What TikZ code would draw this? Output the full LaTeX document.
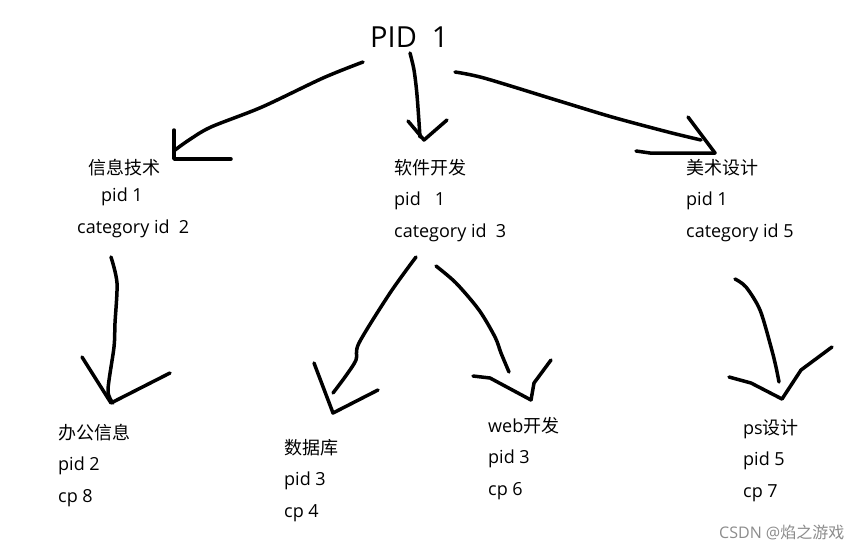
\documentclass[tikz,border=0pt]{standalone}
\usepackage{fontspec}
\setmainfont{Open Sans}
\newfontfamily\cjk{Noto Sans CJK SC}
\begin{document}
\begin{tikzpicture}[x=1pt,y=-1pt,
  lbl/.style={anchor=base west, inner sep=0pt, font=\fontsize{18}{20}\selectfont},
  title/.style={anchor=base west, inner sep=0pt, font=\fontsize{29}{31}\selectfont},
  wmark/.style={anchor=base west, inner sep=0pt, text=black!45, font=\fontsize{16}{18}\selectfont},
  stroke/.style={line width=3.5pt, line cap=round, line join=round, black}]
\useasboundingbox[fill=white] (0,0) rectangle (868,550);
% texts
\node[title] (root) at (370,47) {PID\ \ 1};
\node[lbl] (a1) at (88,174) {\cjk 信息技术};
\node[lbl] (a2) at (101,201) {pid 1};
\node[lbl] (a3) at (77,233) {category id\ \ 2};
\node[lbl] (b1) at (394,174) {\cjk 软件开发};
\node[lbl] (b2) at (394,205) {pid\ \ \ 1};
\node[lbl] (b3) at (394,237) {category id\ \ 3};
\node[lbl] (c1) at (686,174) {\cjk 美术设计};
\node[lbl] (c2) at (686,205) {pid 1};
\node[lbl] (c3) at (686,237) {category id 5};
\node[lbl] (d1) at (58,439) {\cjk 办公信息};
\node[lbl] (d2) at (58,470) {pid 2};
\node[lbl] (d3) at (58,502) {cp 8};
\node[lbl] (e1) at (284,454) {\cjk 数据库};
\node[lbl] (e2) at (284,485) {pid 3};
\node[lbl] (e3) at (284,517) {cp 4};
\node[lbl] (f1) at (488,432) {web{\cjk 开发}};
\node[lbl] (f2) at (488,463) {pid 3};
\node[lbl] (f3) at (488,495) {cp 6};
\node[lbl] (g1) at (743,434) {ps{\cjk 设计}};
\node[lbl] (g2) at (743,465) {pid 5};
\node[lbl] (g3) at (743,497) {cp 7};
\node[wmark] (wm) at (719,538) {CSDN @{\cjk 焰之游戏}};
% strokes
\draw[stroke] plot[smooth] coordinates {(363,62) (323,78) (262,107) (211,127) (189,140) (175,150)};
\draw[stroke] (174,130) -- (174,159) -- (231,159);
\draw[stroke] plot[smooth] coordinates {(410,53) (414,70) (417,95) (420,137)};
\draw[stroke] (408,121) -- (424,140) -- (447,120);
\draw[stroke] plot[smooth] coordinates {(455,72) (484,78) (556,100) (612,117) (668,132) (701,140)};
\draw[stroke] (688,117) -- (715,153);
\draw[stroke] (636,151) -- (650,153) -- (715,153);
\draw[stroke] plot[smooth] coordinates {(111,257) (117,283) (115,323) (114,347) (108,390) (113,403)};
\draw[stroke] (82,357) -- (111,403) -- (170,373);
\draw[stroke] plot[smooth] coordinates {(416,257) (390,293) (359,343) (356,360) (345,377) (333,393)};
\draw[stroke] (314,363) -- (333,413) -- (378,390);
\draw[stroke] plot[smooth] coordinates {(436,266) (456,283) (479,310) (495,337) (501,353) (509,372)};
\draw[stroke] (473,376) -- (490,378) -- (531,400);
\draw[stroke] (551,360) -- (534,383) -- (531,400);
\draw[stroke] plot[smooth] coordinates {(735,279) (746,287) (760,310) (771,347) (776,367) (779,382)};
\draw[stroke] (729,377) -- (751,383) -- (782,399);
\draw[stroke] (832,347) -- (801,370) -- (782,399);
\end{tikzpicture}
\end{document}
